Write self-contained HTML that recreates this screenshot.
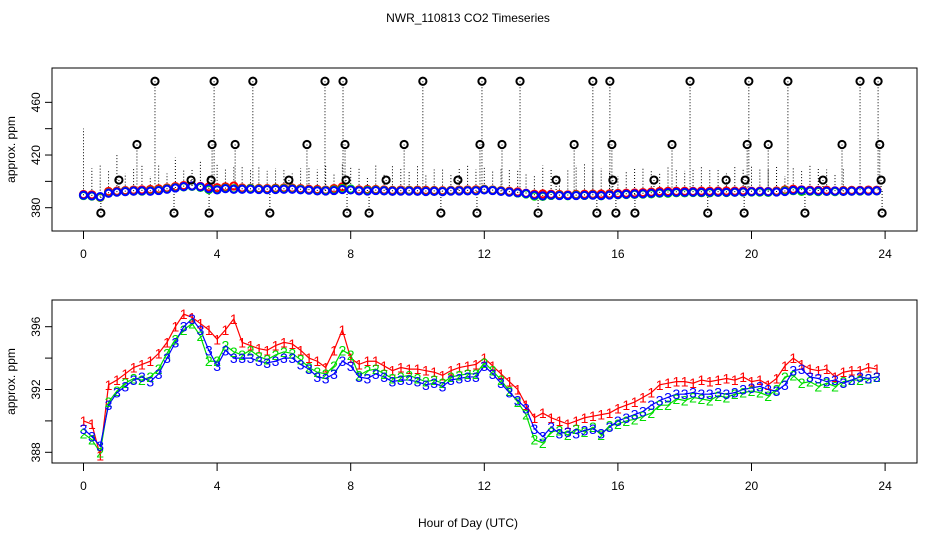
<!DOCTYPE html>
<html><head><meta charset="utf-8"><style>
body{margin:0;background:#fff;}
svg{display:block;font-family:"Liberation Sans",sans-serif;}
</style></head><body>
<svg id="chart" width="936" height="540" viewBox="0 0 936 540" xmlns="http://www.w3.org/2000/svg">
<rect width="936" height="540" fill="#fff"/>
<text x="468" y="22" font-size="12" text-anchor="middle">NWR_110813  CO2 Timeseries</text>
<text x="468" y="527" font-size="12" text-anchor="middle">Hour of Day (UTC)</text>
<g id="topPanel"></g>
<g id="botPanel"></g>
</svg>
<script>
const hourStep = 0.25;
const series3 = [389.5,389,388.4,391, 391.8,392.2,392.6,392.8, 392.5,393,394,395, 396,396.5,395.8,394.5, 393.5,394.5,394,394, 394,393.8,393.7,393.8, 394,394,393.6,393.3, 392.8,392.7,393,393.8, 393.5,392.8,392.7,393, 392.8,392.5,392.6,392.6, 392.5,392.3,392.4,392.2, 392.6,392.7,392.8,392.8, 393.5,393,392.4,391.8, 391.3,390.8,389.5,389, 389.6,389.2,389.3,389.2, 389.4,389.5,389.2,389.6, 390,390.2,390.4,390.6, 391,391.3,391.5,391.7, 391.7,391.8,391.7,391.7, 391.8,391.7,391.8,392, 392.1,392.2,392,391.9, 392.3,393.2,393.3,392.8, 392.7,392.5,392.6,392.4, 392.6,392.8,392.7,392.8];
const series2 = [389.2,388.8,388.0,391.2, 391.9,392.4,392.7,392.6, 392.8,393.3,394.3,395.2, 395.8,396.2,395.4,393.8, 393.8,394.8,394.4,394.2, 394.5,394.1,393.9,394.2, 394.4,394.3,393.9,393.4, 393.1,393,393.5,394.5, 394.2,392.9,393.2,393.3, 393,392.7,392.8,392.9, 392.7,392.5,392.6,392.4, 392.8,392.9,393,393, 393.7,393.2,392.6,391.9, 391.2,390.4,388.8,388.6, 389.3,389.4,389.1,389.5, 389.3,389.6,389.1,389.7, 389.8,390,390.1,390.3, 390.5,391,391,391.4, 391.3,391.5,391.4,391.3, 391.6,391.5,391.7,391.8, 391.9,391.8,391.6,392, 392.8,392.9,392.4,392.5, 392.2,392.4,392.2,392.5, 392.6,392.6,392.7,392.8];
const series1 = [390,389.8,387.8,392.3, 392.6,393,393.4,393.6, 393.8,394.3,395,396, 396.8,396.6,396.2,395.8, 395.2,395.8,396.5,395, 394.8,394.6,394.5,394.8, 395,394.9,394.5,394, 393.8,393.4,394.5,395.8, 394,393.6,393.8,393.8, 393.5,393.2,393.4,393.3, 393.3,393.2,393.1,392.9, 393.2,393.4,393.5,393.6, 394,393.5,393,392.5, 392,391,390.2,390.5, 390.2,390,389.8,390, 390.2,390.3,390.4,390.5, 390.8,391,391.2,391.5, 391.8,392.3,392.4,392.5, 392.5,392.4,392.6,392.5, 392.6,392.7,392.6,392.8, 392.5,392.6,392.3,392.7, 393.5,394,393.6,393.3, 393.2,393.3,392.8,393.1, 393.2,393.2,393.4,393.3];
const spikeTop = [440,410,412,408, 420,406,410,412, 404,412,406,418, 409,410,416,404, 414,410,412,412, 409,412,408,410, 409,406,410,410, 409,412,406,414, 411,410,404,412, 406,412,410,408, 412,406,409,410, 405,410,412,409, 411,408,410,410, 408,406,404,412, 410,405,409,412, 414,409,410,408, 404,408,410,411, 409,406,412,410, 408,410,412,409, 410,406,411,410, 412,410,409,411, 404,410,408,412, 410,409,406,410];
const outlierHours = [2.14,3.91,5.07,7.23,7.77,10.16,11.93,13.07,15.25,15.76,18.16,19.92,21.09,23.25,23.79, 1.60,3.85,4.54,6.69,7.83,9.60,11.87,12.53,14.69,15.82,17.62,19.87,20.50,22.71,23.84, 1.06,3.22,3.82,6.15,7.86,9.06,11.21,14.15,15.85,17.08,19.24,19.81,22.14,23.88, 0.52,2.71,3.76,5.58,7.89,8.55,10.70,11.78,13.61,15.37,15.94,16.51,18.69,19.78,21.60,23.91];
const outlierValues = [476,476,476,476,476,476,476,476,476,476,476,476,476,476,476, 428,428,428,428,428,428,428,428,428,428,428,428,428,428,428, 401,401,401,401,401,401,401,401,401,401,401,401,401,401, 376,376,376,376,376,376,376,376,376,376,376,376,376,376,376,376];
const xTicks = [0,4,8,12,16,20,24];
const topYTicks = [380,400,420,440,460];
const topYLabels = [380,420,460];
const botYTicks = [388,390,392,394,396];
const botYLabels = [388,392,396];

const NS = "http://www.w3.org/2000/svg";
function mk(tag, attrs, parent){const e=document.createElementNS(NS,tag);for(const k in attrs)e.setAttribute(k,attrs[k]);parent.appendChild(e);return e;}
const L=52,R=917;
const xs = h => 83.5 + h*33.4;
const yTop = v => 207.7 - (v-380)*1.317;
const yBot = v => 326.7 - (v-396)*15.7;
const colors = ['#ff0000','#00dd00','#0000ff'];
const allSeries = [series1, series2, series3];

function axes(g, y0, y1, yfun, yt, yl){
  const box = mk('rect',{x:L,y:y0,width:R-L,height:y1-y0,fill:'none',stroke:'#000','stroke-width':1},g);
  
  
  xTicks.forEach(t=>{
    const ln=mk('line',{x1:xs(t),x2:xs(t),y1:y1,y2:y1+8,stroke:'#000'},g);
    
    
    const tx=mk('text',{x:xs(t),y:y1+27,'font-size':12,'text-anchor':'middle'},g);
    tx.textContent=t;
    
    
  });
  yt.forEach(t=>{
    const ln=mk('line',{x1:L-7,x2:L,y1:yfun(t),y2:yfun(t),stroke:'#000'},g);
    
    
  });
  yl.forEach(t=>{
    const tx=mk('text',{x:0,y:0,'font-size':12,'text-anchor':'middle',transform:`translate(40,${yfun(t)}) rotate(-90)`},g);
    tx.textContent=t;
    
    
  });
  const yt2=mk('text',{x:0,y:0,'font-size':12,'text-anchor':'middle',transform:`translate(15,${(y0+y1)/2}) rotate(-90)`},g);
  yt2.textContent='approx. ppm';
  
  
}

const topPanel=document.getElementById('topPanel');
axes(topPanel,68,231,yTop,topYTicks,topYLabels);
spikeTop.forEach((v,i)=>{
  const h=i*hourStep;
  const ln=mk('line',{x1:xs(h),x2:xs(h),y1:yTop(series3[i]),y2:yTop(v),stroke:'#000','stroke-width':1,'stroke-dasharray':'1,2'},topPanel);
  
  
});
outlierHours.forEach((h,i)=>{
  const idx=Math.min(series3.length-1,Math.round(h/hourStep));
  const ln=mk('line',{x1:xs(h),x2:xs(h),y1:yTop(outlierValues[i]),y2:yTop(series3[idx]),stroke:'#000','stroke-width':1,'stroke-dasharray':'1,2'},topPanel);
  
  
});
allSeries.forEach((s,k)=>{
  s.forEach((v,i)=>{
    const c=mk('circle',{cx:xs(i*hourStep),cy:yTop(v),r:3.6,fill:'none',stroke:colors[k],'stroke-width':2},topPanel);
    
    
  });
});
outlierHours.forEach((h,i)=>{
  const c=mk('circle',{cx:xs(h),cy:yTop(outlierValues[i]),r:3.6,fill:'none',stroke:'#000','stroke-width':2},topPanel);
  
  
});

const botPanel=document.getElementById('botPanel');
axes(botPanel,300,463,yBot,botYTicks,botYLabels);
allSeries.forEach((s,k)=>{
  const pts=s.map((v,i)=>xs(i*hourStep)+','+yBot(v)).join(' ');
  const pl=mk('polyline',{points:pts,fill:'none',stroke:colors[k],'stroke-width':1.2},botPanel);
  
  
});
allSeries.forEach((s,k)=>{
  s.forEach((v,i)=>{
    const t=mk('text',{x:xs(i*hourStep),y:yBot(v)+5,'font-size':14,'text-anchor':'middle',fill:colors[k]},botPanel);
    t.textContent=String(k+1);
    
    
  });
});
</script>
</body></html>
